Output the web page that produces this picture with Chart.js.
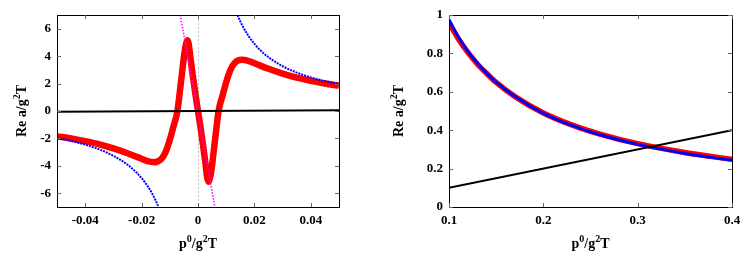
<!DOCTYPE html>
<html>
<head>
<meta charset="utf-8">
<script src="https://cdn.jsdelivr.net/npm/chart.js@4.4.1/dist/chart.umd.min.js"></script>
<style>
  html, body { margin: 0; padding: 0; background: #fff; }
  body { width: 747px; height: 262px; position: relative; overflow: hidden; }
  canvas { position: absolute; top: 0; }
  #leftChart { left: 0; }
  #rightChart { left: 374px; }
</style>
</head>
<body>
<canvas id="leftChart" width="373" height="262"></canvas>
<canvas id="rightChart" width="373" height="262"></canvas>
<script>
// ---- left panel data ----
const xRedLeft = [-0.05, -0.045, -0.04, -0.035, -0.03, -0.025, -0.02, -0.0175, -0.0155, -0.013, -0.0115,
  -0.01, -0.0088, -0.0073, -0.0065, -0.0057, -0.0047, -0.0041, -0.0037, -0.0033, -0.0027, -0.0018, -0.0009, 0,
  0.0009, 0.0018, 0.0027, 0.0033, 0.0037, 0.0041, 0.0047, 0.0057, 0.0065, 0.0073, 0.0088, 0.01,
  0.0115, 0.013, 0.0155, 0.0175, 0.02, 0.025, 0.03, 0.035, 0.04, 0.045, 0.05];
const yRedLeft = [-1.85, -2.0, -2.2, -2.43, -2.73, -3.08, -3.48, -3.68, -3.73, -3.5, -3.0,
  -2.1, -1.2, 0, 1.3, 2.7, 4.4, 5.0, 5.15, 4.9, 3.9, 2.5, 1.2, 0,
  -1.2, -2.5, -3.9, -4.9, -5.15, -5.0, -4.4, -2.7, -1.3, 0, 1.2, 2.1,
  3.0, 3.5, 3.73, 3.68, 3.48, 3.08, 2.73, 2.43, 2.2, 2.0, 1.85];

const xBlueNeg = [-0.05, -0.045, -0.04, -0.035, -0.03, -0.025, -0.022, -0.02, -0.018, -0.016, -0.015, -0.014];
const yBlueNeg = [-1.96, -2.18, -2.45, -2.8, -3.27, -3.92, -4.45, -4.9, -5.44, -6.12, -6.53, -7.0];
const xBluePos = [0.014, 0.015, 0.016, 0.018, 0.02, 0.022, 0.025, 0.03, 0.035, 0.04, 0.045, 0.05];
const yBluePos = [7.0, 6.53, 6.12, 5.44, 4.9, 4.45, 3.92, 3.27, 2.8, 2.45, 2.18, 1.96];

const xMagenta = [-0.0063, 0.006];
const yMagenta = [7, -7];

const xBlackLeft = [-0.05, 0.05];
const yBlackLeft = [-0.05, 0.05];

const xTicksLeft = [-0.04, -0.02, 0, 0.02, 0.04];
const yTicksLeft = [-6, -4, -2, 0, 2, 4, 6];

// ---- right panel data ----
const xRight = [0.1, 0.11, 0.12, 0.13, 0.14, 0.15, 0.17, 0.2, 0.23, 0.26, 0.3, 0.35, 0.4];
const yBlueRight = [0.975, 0.885, 0.81, 0.75, 0.697, 0.65, 0.575, 0.488, 0.425, 0.376, 0.326, 0.279, 0.243];
const yRedRight = [0.96, 0.875, 0.805, 0.745, 0.695, 0.649, 0.575, 0.49, 0.428, 0.38, 0.33, 0.284, 0.248];

const xBlackRight = [0.1, 0.4];
const yBlackRight = [0.1, 0.4];

const xTicksRight = [0.1, 0.2, 0.3, 0.4];
const yTicksRight = [0, 0.2, 0.4, 0.6, 0.8, 1];

// axis titles: [text, superscript?]
const xTitleParts = [['p', false], ['0', true], ['/g', false], ['2', true], ['T', false]];
const yTitleParts = [['Re a/g', false], ['2', true], ['T', false]];

const FONT = '"Liberation Serif", "Times New Roman", serif';

const pts = (xs, ys) => xs.map((x, i) => ({ x, y: ys[i] }));

function drawParts(ctx, parts, cx, baseline) {
    const mainFont = 'bold 14px ' + FONT;
    const supFont = 'bold 10px ' + FONT;
    let total = 0;
    parts.forEach(([t, sup]) => {
        ctx.font = sup ? supFont : mainFont;
        total += ctx.measureText(t).width;
    });
    let x = cx - total / 2;
    ctx.textAlign = 'left';
    ctx.textBaseline = 'alphabetic';
    parts.forEach(([t, sup]) => {
        ctx.font = sup ? supFont : mainFont;
        ctx.fillText(t, x, sup ? baseline - 6 : baseline);
        x += ctx.measureText(t).width;
    });
}

// gnuplot-like frame: box, inward ticks on all four sides, titles
const framePlugin = {
    id: 'frame',
    beforeDatasetsDraw(chart, args, opts) {
        if (!opts.zeroLine) return;
        const { ctx, chartArea: a, scales } = chart;
        const px = Math.round(scales.x.getPixelForValue(0)) + 0.5;
        ctx.save();
        ctx.strokeStyle = '#c0c0c0';
        ctx.lineWidth = 1;
        ctx.setLineDash([2, 2]);
        ctx.beginPath();
        ctx.moveTo(px, a.top);
        ctx.lineTo(px, a.bottom);
        ctx.stroke();
        ctx.restore();
    },
    afterDatasetsDraw(chart, args, opts) {
        const { ctx, chartArea: a, scales } = chart;
        ctx.save();
        ctx.strokeStyle = '#000';
        ctx.lineWidth = 1;
        ctx.strokeRect(Math.round(a.left) + 0.5, Math.round(a.top) + 0.5,
            Math.round(a.right - a.left), Math.round(a.bottom - a.top));
        const tl = 4;
        ctx.strokeStyle = '#666';
        ctx.beginPath();
        scales.x.ticks.forEach(t => {
            const p = Math.round(scales.x.getPixelForValue(t.value)) + 0.5;
            ctx.moveTo(p, a.bottom); ctx.lineTo(p, a.bottom - tl);
            ctx.moveTo(p, a.top); ctx.lineTo(p, a.top + tl);
        });
        scales.y.ticks.forEach(t => {
            const p = Math.round(scales.y.getPixelForValue(t.value)) + 0.5;
            ctx.moveTo(a.left, p); ctx.lineTo(a.left + tl, p);
            ctx.moveTo(a.right, p); ctx.lineTo(a.right - tl, p);
        });
        ctx.stroke();

        ctx.fillStyle = '#000';
        drawParts(ctx, xTitleParts, (a.left + a.right) / 2, 248);
        ctx.translate(opts.yTitleX, (a.top + a.bottom) / 2);
        ctx.rotate(-Math.PI / 2);
        drawParts(ctx, yTitleParts, 0, 0);
        ctx.restore();
    }
};

function makeOptions(xMin, xMax, yMin, yMax, xTicks, yTicks, yWidth, padRight, yTitleX, zeroLine) {
    const tickFont = { family: FONT, size: 13, weight: 'bold' };
    return {
        responsive: false,
        animation: false,
        layout: { padding: { top: 15, right: padRight, left: 0, bottom: 0 } },
        plugins: {
            legend: { display: false },
            tooltip: { enabled: false },
            frame: { yTitleX, zeroLine }
        },
        elements: { point: { radius: 0 } },
        scales: {
            x: {
                type: 'linear', min: xMin, max: xMax,
                afterBuildTicks: s => { s.ticks = xTicks.map(v => ({ value: v })); },
                afterFit: s => { s.height = 55; },
                grid: { display: false, drawTicks: false },
                border: { display: false },
                ticks: { font: tickFont, color: '#000', padding: 6, maxRotation: 0,
                    callback: v => String(v) }
            },
            y: {
                type: 'linear', min: yMin, max: yMax,
                afterBuildTicks: s => { s.ticks = yTicks.map(v => ({ value: v })); },
                afterFit: s => { s.width = yWidth; },
                grid: { display: false, drawTicks: false },
                border: { display: false },
                ticks: { font: tickFont, color: '#000', padding: 6,
                    callback: v => String(v) }
            }
        }
    };
}

const line = (data, color, width, order, extra) => ({
    data, borderColor: color, borderWidth: width, order, clip: 0,
    fill: false, pointRadius: 0, ...(extra || {})
});

new Chart(document.getElementById('leftChart'), {
    type: 'line',
    data: {
        datasets: [
            line(pts(xBlackLeft, yBlackLeft), '#000', 2, 0),
            line(pts(xMagenta, yMagenta), '#ff00ff', 1.5, 1, { borderDash: [1.5, 1.5] }),
            line(pts(xBlueNeg, yBlueNeg), '#0000ff', 2, 2, { cubicInterpolationMode: 'monotone', borderDash: [2, 1] }),
            line(pts(xBluePos, yBluePos), '#0000ff', 2, 2, { cubicInterpolationMode: 'monotone', borderDash: [2, 1] }),
            line(pts(xRedLeft, yRedLeft), '#ff0000', 6.5, 3, { cubicInterpolationMode: 'monotone' })
        ]
    },
    options: makeOptions(-0.05, 0.05, -7, 7, xTicksLeft, yTicksLeft, 57, 34, 26, true),
    plugins: [framePlugin]
});

new Chart(document.getElementById('rightChart'), {
    type: 'line',
    data: {
        datasets: [
            line(pts(xBlackRight, yBlackRight), '#000', 2, 0),
            line(pts(xRight, yBlueRight), '#0000ff', 3, 1, { cubicInterpolationMode: 'monotone' }),
            line(pts(xRight, yRedRight), '#ff0000', 5.5, 2, { cubicInterpolationMode: 'monotone' })
        ]
    },
    options: makeOptions(0.1, 0.4, 0, 1, xTicksRight, yTicksRight, 75, 15, 29, false),
    plugins: [framePlugin]
});
</script>
</body>
</html>
